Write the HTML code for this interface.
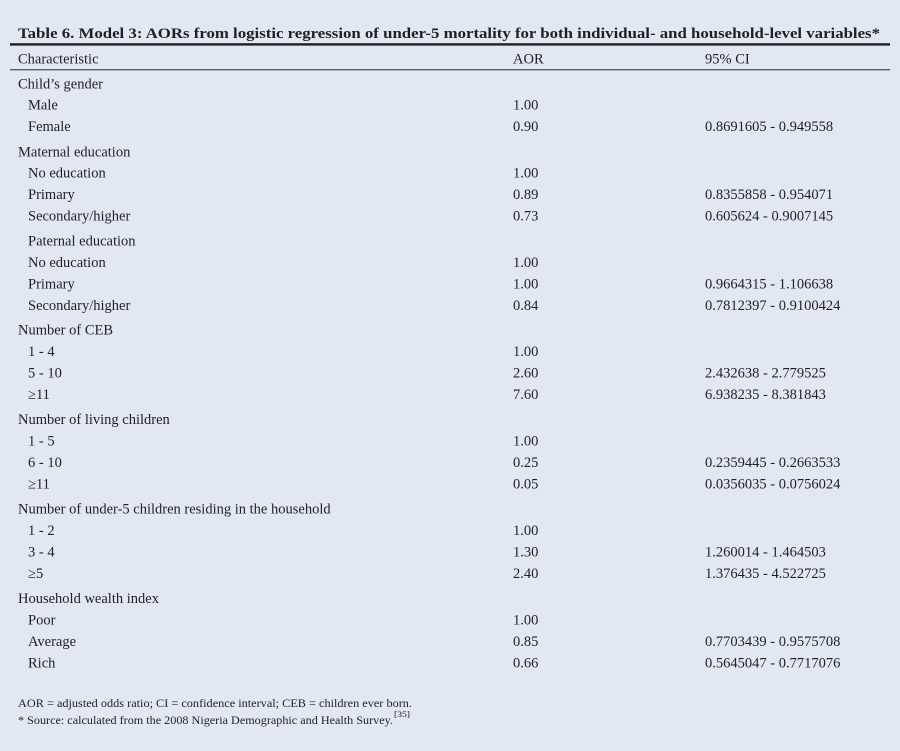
<!DOCTYPE html>
<html>
<head>
<meta charset="utf-8">
<style>
  html,body{margin:0;padding:0;background:#e2e7f4;}
  svg{display:block;}
  text{font-family:"Liberation Serif","DejaVu Serif",serif;fill:#231f20;font-size:14.5px;}
  .t{font-weight:bold;font-size:15px;}
  .f{font-size:12px;}
  .s{font-size:8px;}
</style>
</head>
<body>
<svg width="900" height="751" viewBox="0 0 900 751" xmlns="http://www.w3.org/2000/svg">
  <rect x="0" y="0" width="900" height="751" fill="#e2e7f4"/>
  <rect x="10" y="43.2" width="880" height="2.4" fill="#231f20"/>
  <rect x="10" y="69.2" width="880" height="1.1" fill="#3a3a3e"/>
  <g transform="translate(0,1)">
  <text class="t" x="18" y="37" textLength="862" lengthAdjust="spacingAndGlyphs">Table 6. Model 3: AORs from logistic regression of under-5 mortality for both individual- and household-level variables*</text>
  <text x="18" y="62.5">Characteristic</text>
  <text x="513" y="62.5">AOR</text>
  <text x="705" y="62.5">95% CI</text>

  <text x="18" y="87.5">Child’s gender</text>
  <text x="28" y="108.5">Male</text><text x="513" y="108.5">1.00</text>
  <text x="28" y="130">Female</text><text x="513" y="130">0.90</text><text x="705" y="130">0.8691605 - 0.949558</text>

  <text x="18" y="155.5">Maternal education</text>
  <text x="28" y="176.5">No education</text><text x="513" y="176.5">1.00</text>
  <text x="28" y="198">Primary</text><text x="513" y="198">0.89</text><text x="705" y="198">0.8355858 - 0.954071</text>
  <text x="28" y="219.5">Secondary/higher</text><text x="513" y="219.5">0.73</text><text x="705" y="219.5">0.605624 - 0.9007145</text>

  <text x="28" y="244.5">Paternal education</text>
  <text x="28" y="266">No education</text><text x="513" y="266">1.00</text>
  <text x="28" y="287.5">Primary</text><text x="513" y="287.5">1.00</text><text x="705" y="287.5">0.9664315 - 1.106638</text>
  <text x="28" y="309">Secondary/higher</text><text x="513" y="309">0.84</text><text x="705" y="309">0.7812397 - 0.9100424</text>

  <text x="18" y="333.5">Number of CEB</text>
  <text x="28" y="355">1 - 4</text><text x="513" y="355">1.00</text>
  <text x="28" y="376.5">5 - 10</text><text x="513" y="376.5">2.60</text><text x="705" y="376.5">2.432638 - 2.779525</text>
  <text x="28" y="398">≥11</text><text x="513" y="398">7.60</text><text x="705" y="398">6.938235 - 8.381843</text>

  <text x="18" y="423">Number of living children</text>
  <text x="28" y="444.5">1 - 5</text><text x="513" y="444.5">1.00</text>
  <text x="28" y="466">6 - 10</text><text x="513" y="466">0.25</text><text x="705" y="466">0.2359445 - 0.2663533</text>
  <text x="28" y="487.5">≥11</text><text x="513" y="487.5">0.05</text><text x="705" y="487.5">0.0356035 - 0.0756024</text>

  <text x="18" y="512.5">Number of under-5 children residing in the household</text>
  <text x="28" y="534">1 - 2</text><text x="513" y="534">1.00</text>
  <text x="28" y="555.5">3 - 4</text><text x="513" y="555.5">1.30</text><text x="705" y="555.5">1.260014 - 1.464503</text>
  <text x="28" y="577">≥5</text><text x="513" y="577">2.40</text><text x="705" y="577">1.376435 - 4.522725</text>

  <text x="18" y="602">Household wealth index</text>
  <text x="28" y="623.5">Poor</text><text x="513" y="623.5">1.00</text>
  <text x="28" y="645">Average</text><text x="513" y="645">0.85</text><text x="705" y="645">0.7703439 - 0.9575708</text>
  <text x="28" y="666.5">Rich</text><text x="513" y="666.5">0.66</text><text x="705" y="666.5">0.5645047 - 0.7717076</text>

  <text class="f" x="18" y="706" textLength="394" lengthAdjust="spacingAndGlyphs">AOR = adjusted odds ratio; CI = confidence interval; CEB = children ever born.</text>
  <text class="f" x="18" y="723" textLength="375" lengthAdjust="spacingAndGlyphs">* Source: calculated from the 2008 Nigeria Demographic and Health Survey.</text>
  <text class="s" x="394" y="716" textLength="16" lengthAdjust="spacingAndGlyphs">[35]</text>
  </g>
</svg>
</body>
</html>
